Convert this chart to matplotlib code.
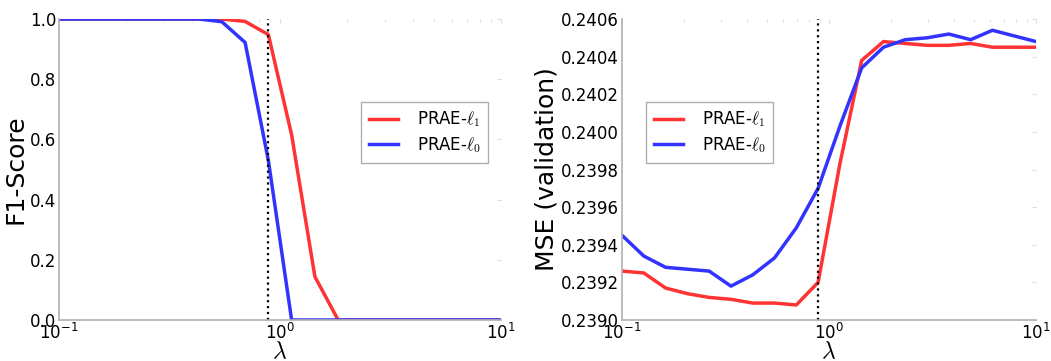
import numpy as np
import matplotlib
matplotlib.use("Agg")
import matplotlib.pyplot as plt

plt.rcParams['font.family'] = ['DejaVu Sans']
plt.rcParams['mathtext.fontset'] = 'cm'

lam = np.logspace(-1, 1, 20)
lam_opt = lam[9]

f1_l1 = [1.0, 1.0, 1.0, 1.0, 1.0, 1.0, 1.0, 1.0, 0.992, 0.948, 0.615, 0.144,
         0.0, 0.0, 0.0, 0.0, 0.0, 0.0, 0.0, 0.0]
f1_l0 = [1.0, 1.0, 1.0, 1.0, 1.0, 1.0, 1.0, 0.991, 0.922, 0.53, 0.0, 0.0,
         0.0, 0.0, 0.0, 0.0, 0.0, 0.0, 0.0, 0.0]

mse_l1 = [0.23926, 0.23925, 0.23917, 0.23914, 0.23912, 0.23911, 0.23909, 0.23909,
          0.23908, 0.23920, 0.23983, 0.24038, 0.24048, 0.24047, 0.24046, 0.24046,
          0.24047, 0.24045, 0.24045, 0.24045]
mse_l0 = [0.23945, 0.23934, 0.23928, 0.23927, 0.23926, 0.23918, 0.23924, 0.23933,
          0.23949, 0.23970, 0.24003, 0.24034, 0.24045, 0.24049, 0.24050, 0.24052,
          0.24049, 0.24054, 0.24051, 0.24048]

labels = [r'PRAE-$\ell_1$', r'PRAE-$\ell_0$']
red = (1.0, 0.2, 0.2)
blue = (0.2, 0.2, 1.0)

fig = plt.figure(figsize=(10.51, 3.61), dpi=100)
W, H = 1051, 361
ax1 = fig.add_axes([59 / W, 1 - 320 / H, (501 - 59) / W, (320 - 19) / H])
ax2 = fig.add_axes([622 / W, 1 - 320 / H, (1036 - 622) / W, (320 - 19) / H])

def style(ax):
    ax.set_xscale('log')
    ax.set_xlim(0.1, 10)
    for s in ['top', 'right']:
        ax.spines[s].set_visible(False)
    for s in ['left', 'bottom']:
        ax.spines[s].set_color('#b0b0b0')
        ax.spines[s].set_linewidth(1.2)
    ax.tick_params(which='both', direction='in', top=True, right=True,
                   bottom=False, left=False, color='#dddddd',
                   labelsize=12, pad=2)
    ax.tick_params(which='major', length=3)
    ax.tick_params(which='minor', length=2)
    ax.set_xlabel(r'$\lambda$', fontsize=17, labelpad=-3)

def add_legend(ax, x0, axw):
    ax.legend(loc='upper left', bbox_to_anchor=((x0 - (622 if ax is ax2 else 59)) / axw,
                                                1 - (102 - 19) / 301),
              fontsize=12, frameon=True, fancybox=False, edgecolor='#999999',
              handlelength=1.75, handletextpad=1.15, borderpad=0.45,
              labelspacing=0.35, borderaxespad=0)

ax1.plot(lam, f1_l1, color=red, lw=2.5, label=labels[0])
ax1.plot(lam, f1_l0, color=blue, lw=2.5, label=labels[1])
ax1.axvline(lam_opt, color='black', ls=':', lw=1.6)
style(ax1)
ax1.set_ylim(0, 1.0)
ax1.set_yticks([0.0, 0.2, 0.4, 0.6, 0.8, 1.0])
ax1.set_ylabel('F1-Score', fontsize=18, labelpad=2)
add_legend(ax1, 361, 442)

ax2.plot(lam, mse_l1, color=red, lw=2.5, label=labels[0])
ax2.plot(lam, mse_l0, color=blue, lw=2.5, label=labels[1])
ax2.axvline(lam_opt, color='black', ls=':', lw=1.6)
style(ax2)
ax2.set_ylim(0.2390, 0.2406)
ax2.set_yticks(np.arange(0.2390, 0.24061, 0.0002))
ax2.yaxis.set_major_formatter(matplotlib.ticker.FormatStrFormatter('%.4f'))
ax2.set_ylabel('MSE (validation)', fontsize=18, labelpad=2)
add_legend(ax2, 646, 414)

fig.savefig('out.png', dpi=100)
